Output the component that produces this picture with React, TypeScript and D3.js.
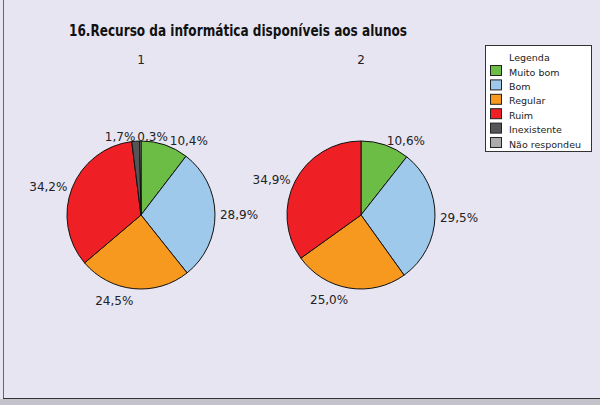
import React, { useRef, useEffect } from "react";
import * as d3 from "d3";

const categories = ["Muito bom", "Bom", "Regular", "Ruim", "Inexistente", "Não respondeu"];
const colors = ["#6BBD45", "#9FC9EA", "#F7991E", "#EE2025", "#555555", "#ABABAB"];
const pieNames = ["1", "2"];
const series1 = [10.4, 28.9, 24.5, 34.2, 1.7, 0.3];
const series2 = [10.6, 29.5, 25.0, 34.9, 0, 0];
const title = "16.Recurso da informática disponíveis aos alunos";

const W = 600;
const H = 405;
const FONT = "'DejaVu Sans', Verdana, sans-serif";

export default function App() {
  const ref = useRef<SVGSVGElement>(null);

  useEffect(() => {
    const svg = d3.select(ref.current);
    svg.selectAll("*").remove();

    // background + frame
    svg.append("rect").attr("width", W).attr("height", H).attr("fill", "#E7E5F2");
    svg.append("rect").attr("x", 0).attr("y", 399).attr("width", W).attr("height", 6).attr("fill", "#C4C3CC");
    svg.append("line").attr("x1", 3.5).attr("x2", 3.5).attr("y1", 0).attr("y2", 399)
      .attr("stroke", "#666").attr("stroke-width", 1);
    svg.append("line").attr("x1", 3).attr("x2", W).attr("y1", 398.5).attr("y2", 398.5)
      .attr("stroke", "#333").attr("stroke-width", 1);

    // title
    svg.append("text")
      .attr("x", 238)
      .attr("y", 36)
      .attr("text-anchor", "middle")
      .attr("textLength", 338)
      .attr("lengthAdjust", "spacingAndGlyphs")
      .style("font-family", FONT)
      .style("font-size", "15px")
      .style("font-weight", "bold")
      .attr("fill", "#111")
      .text(title);

    const cx = d3.scalePoint<string>().domain(pieNames).range([141, 361]);
    const cy = 215;
    const r = 74;

    const pie = d3.pie<number>().sort(null).value((d) => d);
    const arc = d3.arc<d3.PieArcDatum<number>>().innerRadius(0).outerRadius(r);
    const fmt = (v: number) => v.toFixed(1).replace(".", ",") + "%";

    [series1, series2].forEach((series, si) => {
      const name = pieNames[si];
      const g = svg.append("g").attr("transform", `translate(${cx(name)},${cy})`);

      svg.append("text")
        .attr("x", cx(name)!)
        .attr("y", 64)
        .attr("text-anchor", "middle")
        .style("font-family", FONT)
        .style("font-size", "12px")
        .attr("fill", "#222")
        .text(name);

      const arcs = pie(series).map((d, i) => ({ ...d, i })).filter((d) => d.value > 0);

      g.selectAll("path")
        .data(arcs)
        .join("path")
        .attr("d", (d) => arc(d) as string)
        .attr("fill", (d) => colors[d.i])
        .attr("stroke", "#111")
        .attr("stroke-width", 1)
        .attr("stroke-linejoin", "round");

      // labels outside, box touching a point just beyond the rim
      const labels = g.selectAll("text.lbl")
        .data(arcs)
        .join("text")
        .attr("class", "lbl")
        .style("font-family", FONT)
        .style("font-size", "12px")
        .attr("fill", "#222")
        .text((d) => fmt(d.value));

      const boxes: { x: number; y: number; w: number; h: number; node: SVGTextElement }[] = [];
      labels.each(function (d) {
        const node = this as SVGTextElement;
        const w = node.getComputedTextLength();
        const h = 13;
        const a = (d.startAngle + d.endAngle) / 2;
        const ux = Math.sin(a);
        const uy = -Math.cos(a);
        const px = (r + 5) * ux;
        const py = (r + 5) * uy;
        const left = ux >= 0 ? px : px - w;
        const yc = py + (uy > 0 ? (uy * h) / 2 : 0);
        boxes.push({ x: left, y: yc - h / 2, w, h, node });
      });

      // push overlapping labels to the right
      const sorted = boxes.slice().sort((a, b) => a.x - b.x);
      for (let k = 1; k < sorted.length; k++) {
        const prev = sorted[k - 1];
        const cur = sorted[k];
        const vOverlap = cur.y < prev.y + prev.h && prev.y < cur.y + cur.h;
        if (vOverlap && cur.x < prev.x + prev.w + 2) cur.x = prev.x + prev.w + 2;
      }

      boxes.forEach((b) => {
        d3.select(b.node).attr("x", b.x).attr("y", b.y + b.h / 2 + 5);
      });
    });

    // legend
    const lg = svg.append("g");
    lg.append("rect")
      .attr("x", 485.5).attr("y", 45.5).attr("width", 106).attr("height", 106)
      .attr("fill", "#fff").attr("stroke", "#333");
    lg.append("text")
      .attr("x", 509).attr("y", 60.5)
      .style("font-family", FONT).style("font-size", "9.5px").attr("fill", "#222")
      .text("Legenda");
    const rowY = d3.scaleLinear().domain([0, categories.length]).range([65.5, 65.5 + 14.4 * categories.length]);
    categories.forEach((c, i) => {
      lg.append("rect")
        .attr("x", 490.5).attr("y", rowY(i)).attr("width", 11).attr("height", 10)
        .attr("fill", colors[i]).attr("stroke", "#222");
      lg.append("text")
        .attr("x", 509).attr("y", rowY(i) + 10)
        .style("font-family", FONT).style("font-size", "9.5px").attr("fill", "#222")
        .text(c);
    });
  }, []);

  return (
    <svg
      ref={ref}
      width={W}
      height={H}
      style={{ position: "absolute", left: 0, top: 0, display: "block" }}
    />
  );
}
